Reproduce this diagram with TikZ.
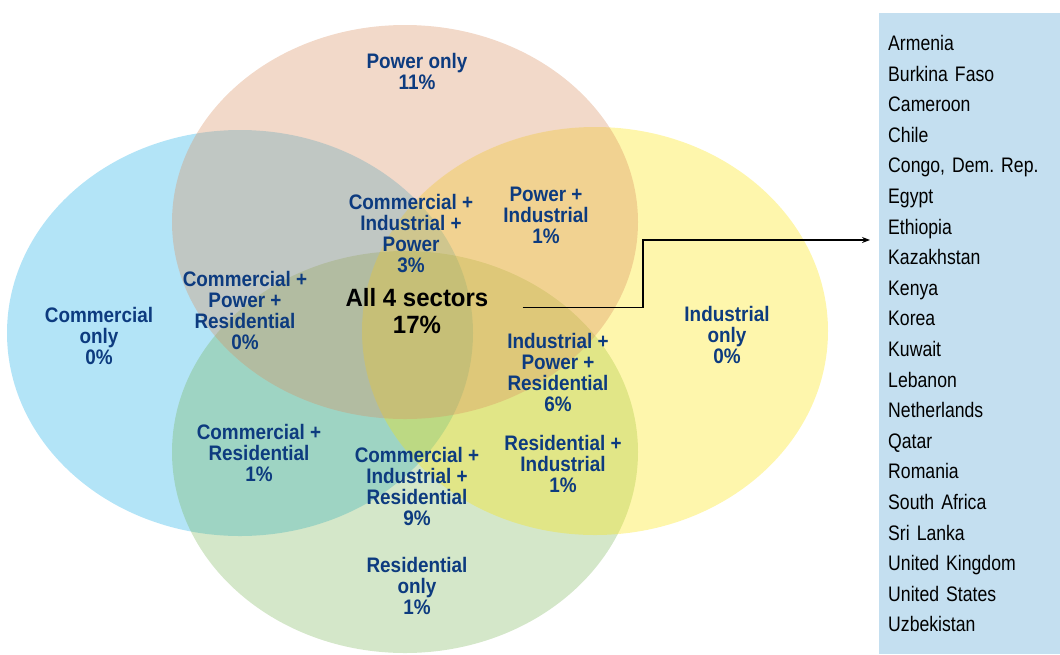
\documentclass[tikz,border=0pt]{standalone}
\usepackage{fontspec}
\setmainfont{Liberation Sans}
\newfontfamily\sectfont[FakeStretch=0.9]{Liberation Sans}
\newfontfamily\listfont[FakeStretch=0.84]{Liberation Sans}
\newfontfamily\bigfont[FakeStretch=0.96]{Liberation Sans}
\newcommand\listsetup{\listfont\fontsize{21}{30.6}\selectfont\frenchspacing\spaceskip=4.4pt\relax}
\usetikzlibrary{positioning, arrows.meta}
\definecolor{powerfill}{HTML}{D98F60}
\definecolor{commfill}{HTML}{19ADE7}
\definecolor{indfill}{HTML}{FCE400}
\definecolor{resfill}{HTML}{70AF4B}
\definecolor{listfill}{HTML}{C4DFF0}
\definecolor{navy}{HTML}{0D3B7F}

\begin{document}
\begin{tikzpicture}[
    x=1pt, y=-1pt,
    sect/.style={font=\sectfont\bfseries\fontsize{21}{21}\selectfont, text=navy, align=center, inner sep=0pt},
    big/.style={font=\bigfont\bfseries\fontsize{25}{27}\selectfont, text=black, align=center, inner sep=0pt},
    listbox/.style={fill=listfill, anchor=north west, minimum width=181pt, minimum height=641pt, inner xsep=9pt, text width=163pt, align=left, font=\listsetup},
    arr/.style={-{Stealth[length=8pt, width=6pt]}, line width=1.2pt, black},
]
\useasboundingbox (0,0) rectangle (1060,654);

% Sector ellipses (bottom to top)
\fill[commfill, fill opacity=0.33] (240,333) ellipse [x radius=233pt, y radius=203pt];
\fill[resfill, fill opacity=0.30] (405,452) ellipse [x radius=233pt, y radius=201pt];
\fill[indfill, fill opacity=0.325] (595,331) ellipse [x radius=233pt, y radius=204pt];
\fill[powerfill, fill opacity=0.34] (405,222) ellipse [x radius=233pt, y radius=197pt];

% Sector labels
\node[sect] (pow) at (417,71.5) {Power only\\11\%};
\node[sect] (cip) at (411,234) {Commercial +\\Industrial +\\Power\\3\%};
\node[sect] (pi) at (546,215) {Power +\\Industrial\\1\%};
\node[sect] (cpr) at (245,310.5) {Commercial +\\Power +\\Residential\\0\%};
\node[big] (all4) at (417,311.5) {All 4 sectors\\17\%};
\node[sect] (com) at (99,336) {Commercial\\only\\0\%};
\node[sect] (ind) at (727,335) {Industrial\\only\\0\%};
\node[sect] (ipr) at (558,372) {Industrial +\\Power +\\Residential\\6\%};
\node[sect] (cr) at (259,453) {Commercial +\\Residential\\1\%};
\node[sect] (cir) at (417,486) {Commercial +\\Industrial +\\Residential\\9\%};
\node[sect] (ri) at (563,463.5) {Residential +\\Industrial\\1\%};
\node[sect] (res) at (417,586) {Residential\\only\\1\%};

% Country list
\node[listbox] (list) at (879,13) {Armenia\\Burkina Faso\\Cameroon\\Chile\\Congo, Dem. Rep.\\Egypt\\Ethiopia\\Kazakhstan\\Kenya\\Korea\\Kuwait\\Lebanon\\Netherlands\\Qatar\\Romania\\South Africa\\Sri Lanka\\United Kingdom\\United States\\Uzbekistan};

% Arrow to list
\coordinate (bend) at (643,240);
\draw[arr, shorten >=9pt] ([xshift=34pt, yshift=4pt]all4.east) -| (bend) -- (list.west |- bend);

\end{tikzpicture}
\end{document}
